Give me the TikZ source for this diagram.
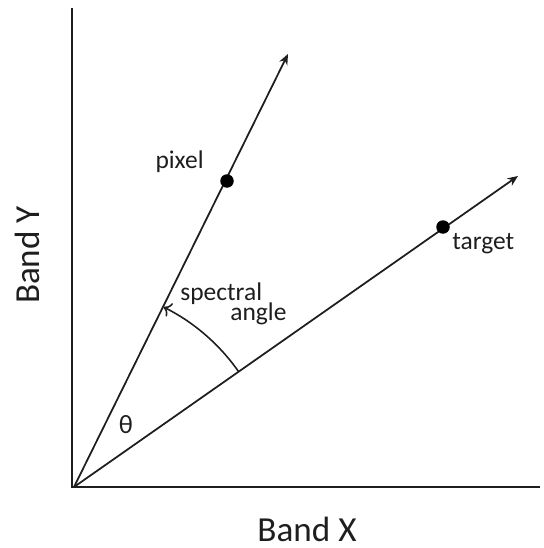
\documentclass[tikz,border=0pt]{standalone}
\usepackage{fontspec}
\setmainfont{Carlito}
\usepackage{tikz}
\usetikzlibrary{positioning,arrows.meta}
\definecolor{ink}{RGB}{30,30,30}

\begin{document}
\begin{tikzpicture}[
    axis/.style={draw=ink, line width=1.1pt},
    ray/.style={draw=ink, line width=1pt, -{Stealth[length=6pt,width=5pt]}},
    spot/.style={circle, fill=black, inner sep=0pt, minimum size=0.27cm},
    lbl/.style={text=ink, inner sep=0pt, font=\fontsize{14.5}{16}\selectfont},
    big/.style={text=ink, inner sep=0pt, font=\fontsize{20}{24}\selectfont}
  ]
  \useasboundingbox (-1.48,-1.22) rectangle (9.4,9.74);

  % axes
  \coordinate (o) at (0,0);
  \coordinate (ytop) at (-0.04,9.58);
  \coordinate (xend) at (9.32,0);
  \draw[axis] (ytop) -- (-0.04,0) -- (xend);

  % the two spectra
  \coordinate (ptip) at (4.28,8.66);
  \coordinate (ttip) at (8.88,6.22);
  \draw[ray] (o) -- (ptip);
  \draw[ray] (o) -- (ttip);
  \node[spot] (pix) at (3.06,6.12) {};
  \node[spot] (tgt) at (7.38,5.20) {};
  \node[lbl, anchor=base east] (pixlbl) at (2.6,6.38) {pixel};
  \node[lbl, anchor=base west] (tgtlbl) at (7.56,4.76) {target};

  % angle between them
  \draw[draw=ink, line width=0.9pt, -{To[length=4pt]}] ([shift={(35:4.02)}]o)
    arc[start angle=35, end angle=63.5, radius=4.02];
  \node[lbl, anchor=base west] (spec) at (2.12,3.74) {spectral};
  \node[lbl, anchor=base west] (ang) at (3.12,3.34) {angle};
  \node[text=ink, font=\fontsize{15}{18}\selectfont] (theta) at (1.04,1.24) {θ};

  % axis names
  \node[big, rotate=90] (ylbl) at (-0.94,4.64) {Band Y};
  \node[big, anchor=base] (xlbl) at (4.66,-1.08) {Band X};
\end{tikzpicture}
\end{document}
